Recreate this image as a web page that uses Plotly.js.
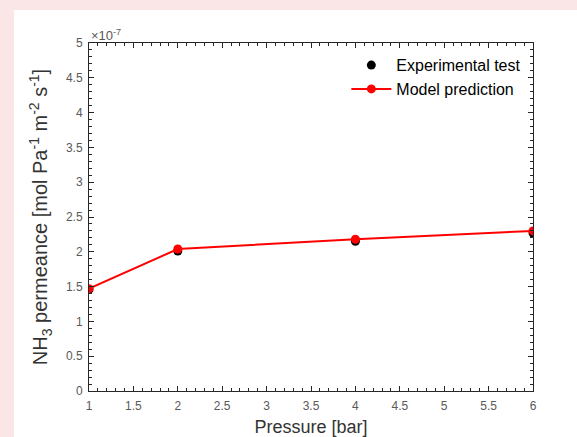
<!DOCTYPE html>
<html>
<head>
<meta charset="utf-8">
<script src="https://cdn.plot.ly/plotly-3.0.1.min.js"></script>
<style>html,body{margin:0;padding:0;background:#fbe6e7;}#chart{width:577px;height:437px;}</style>
</head>
<body>
<div id="chart"></div>
<script>
const pressure = [1, 2, 4, 6];
const experimental = [1.46e-7, 2.01e-7, 2.15e-7, 2.27e-7];
const model = [1.47e-7, 2.04e-7, 2.18e-7, 2.30e-7];
const yTickVals = [0, 0.5e-7, 1e-7, 1.5e-7, 2e-7, 2.5e-7, 3e-7, 3.5e-7, 4e-7, 4.5e-7, 5e-7];
const yTickText = ['0', '0.5', '1', '1.5', '2', '2.5', '3', '3.5', '4', '4.5', '5'];
const xTickVals = [1, 1.5, 2, 2.5, 3, 3.5, 4, 4.5, 5, 5.5, 6];

const FONT = 'Liberation Sans, Arial, sans-serif';

const traces = [
  {
    x: pressure, y: experimental, name: 'Experimental test',
    mode: 'markers', type: 'scatter',
    marker: {color: '#000000', size: 9}
  },
  {
    x: pressure, y: model, name: 'Model prediction',
    mode: 'lines+markers', type: 'scatter',
    line: {color: '#ff0000', width: 2},
    marker: {color: '#ff0000', size: 9}
  }
];

const axisCommon = {
  showgrid: false, zeroline: false, showline: true, linecolor: '#262626', linewidth: 1,
  mirror: 'ticks', ticks: 'inside', ticklen: 5, tickcolor: '#262626',
  tickfont: {family: FONT, size: 12, color: '#595959'}
};

const layout = {
  width: 577, height: 437,
  margin: {l: 89, r: 44, t: 43, b: 46},
  paper_bgcolor: '#fbe6e7', plot_bgcolor: '#ffffff',
  showlegend: true,
  legend: {x: 0.985, y: 0.985, xanchor: 'right', yanchor: 'top', bgcolor: 'rgba(255,255,255,0)',
    itemwidth: 40, tracegroupgap: 0,
    font: {family: FONT, size: 16, color: '#000000'}},
  xaxis: Object.assign({}, axisCommon, {
    range: [1, 6], tickvals: xTickVals, ticklabelstandoff: 4,
    minor: {ticks: 'inside', dtick: 0.1, ticklen: 3, tickcolor: '#262626'},
    title: {text: 'Pressure [bar]', standoff: 7,
      font: {family: FONT, size: 18, color: '#333333'}}
  }),
  yaxis: Object.assign({}, axisCommon, {
    range: [0, 5e-7], tickvals: yTickVals, ticktext: yTickText, ticklabelstandoff: 3,
    minor: {ticks: 'inside', dtick: 0.1e-7, ticklen: 3, tickcolor: '#262626'},
    title: {text: 'NH<sub>3</sub> permeance [mol Pa<sup>-1</sup> m<sup>-2</sup> s<sup>-1</sup>]', standoff: 12,
      font: {family: FONT, size: 20, color: '#333333'}}
  }),
  shapes: [{
    type: 'rect', xref: 'paper', yref: 'paper', layer: 'below',
    x0: -0.169, x1: 1.12, y0: -0.15, y1: 1.095,
    fillcolor: '#ffffff', line: {width: 0}
  }],
  annotations: [{
    xref: 'paper', yref: 'paper', x: 0, y: 1, xanchor: 'left', yanchor: 'bottom',
    xshift: 0, yshift: -2, showarrow: false,
    text: '×10<sup>-7</sup>',
    font: {family: FONT, size: 13, color: '#595959'}
  }]
};

Plotly.newPlot('chart', traces, layout, {displayModeBar: false, staticPlot: true});
</script>
</body>
</html>
